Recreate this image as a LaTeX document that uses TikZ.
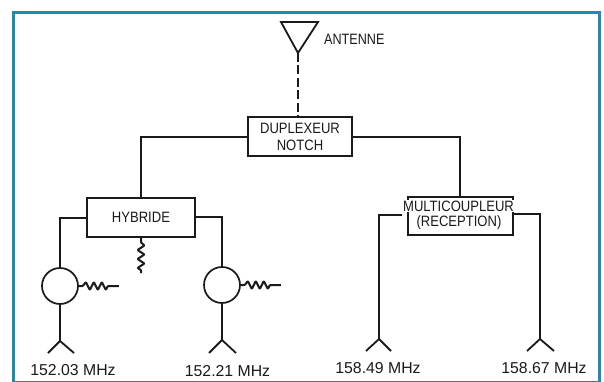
\documentclass[tikz,border=0pt]{standalone}
\usepackage{fontspec}
\setmainfont{Liberation Sans}
\newfontfamily\boxfont[FakeStretch=0.87]{Liberation Sans}
\newfontfamily\antfont[FakeStretch=0.84]{Liberation Sans}
\definecolor{framecol}{HTML}{1B8DAF}
\definecolor{inkcol}{HTML}{1A1A1A}
\begin{document}
\begin{tikzpicture}[x=1pt,y=-1pt,
  wire/.style={line width=1.8pt,draw=inkcol,line join=miter},
  rwire/.style={line width=2pt,draw=inkcol,line join=round,rounded corners=0.8pt},
  boxn/.style={draw=inkcol,line width=2pt,fill=white,inner sep=0pt,align=center,text=inkcol,font=\boxfont\fontsize{15}{16.5}\selectfont},
  lab/.style={text=inkcol,font=\fontsize{15.8}{17}\selectfont,inner sep=0pt},
  circn/.style={draw=inkcol,line width=1.7pt,circle,minimum size=36pt,inner sep=0pt}]
\useasboundingbox (0,0) rectangle (604,382);
\fill[white] (0,0) rectangle (604,382);
\draw[draw=framecol,line width=3pt] (13.5,13) rectangle (599,382);
% antenna
\coordinate (anttip) at (298,53);
\coordinate (antl) at (281,22);
\coordinate (antr) at (318,22);
\draw[wire] (antl) -- (antr) -- (anttip) -- cycle;
\node[lab,anchor=west,font=\antfont\fontsize{15}{15}\selectfont] (antlab) at (324,39) {ANTENNE};
% boxes
\node[boxn,minimum width=104pt,minimum height=39pt] (dup) at (300,137) {DUPLEXEUR\\NOTCH};
\draw[wire,dash pattern=on 9pt off 3.5pt] (anttip) -- (dup.north -| anttip);
\node[boxn,minimum width=108pt,minimum height=39pt] (hyb) at (141,217) {HYBRIDE};
\node[draw=inkcol,line width=2pt,fill=white,inner sep=0pt,minimum width=105pt,minimum height=38pt] (mul) at (460,216) {};
\node[lab,font=\boxfont\fontsize{15}{15}\selectfont] (rec) at (459,223) {(RECEPTION)};
\node[lab,fill=white,inner xsep=1pt,inner ysep=1pt,font=\boxfont\fontsize{15}{15}\selectfont] (multxt) at (458.5,206) {MULTICOUPLEUR};
% links
\draw[wire] (dup.west) -- (141,137) -- (hyb.north);
\draw[wire] (dup.east) -- (460,137) -- (mul.north);
% circles
\node[circn] (c1) at (60,286) {};
\node[circn] (c2) at (222,285) {};
\coordinate (h1) at (60,218);
\coordinate (h2) at (222,217);
\draw[wire] (hyb.west |- h1) -- (h1) -- (c1.north);
\draw[wire] (hyb.east |- h2) -- (h2) -- (c2.north);
% antenna tips bottom
\coordinate (a1) at (60,341);
\coordinate (a2) at (222,340);
\coordinate (a3) at (379,339);
\coordinate (a4) at (540,339);
\draw[wire] (c1.south) -- (a1);
\draw[wire] (48,353) -- (a1) -- (74,353);
\draw[wire] (c2.south) -- (a2);
\draw[wire] (209,353) -- (a2) -- (236,353);
\coordinate (m1) at (379,215);
\coordinate (m2) at (540,214);
\draw[wire] (multxt.west |- m1) -- (m1) -- (a3);
\draw[wire] (366,351) -- (a3) -- (391,351);
\draw[wire] (mul.east |- m2) -- (m2) -- (a4);
\draw[wire] (527,351) -- (a4) -- (554,351);
% resistors
\draw[rwire] (hyb.south) -- ++(0,5) -- ++(3.5,3) -- ++(-7,4.5) -- ++(7,4.5) -- ++(-7,4.5) -- ++(7,4.5) -- ++(-7,4.5) -- ++(3.5,2) -- ++(0,3);
\draw[rwire] (c1.east) -- ++(4,0) -- ++(3,-4) -- ++(4,8) -- ++(4,-8) -- ++(4,8) -- ++(4,-8) -- ++(4,8) -- ++(2,-4) -- ++(11,0);
\draw[rwire] (c2.east) -- ++(4,0) -- ++(3,-4) -- ++(4,8) -- ++(4,-8) -- ++(4,8) -- ++(4,-8) -- ++(4,8) -- ++(2,-4) -- ++(11,0);
% labels
\node[lab] (l1) at (73,370.5) {152.03 MHz};
\node[lab] (l2) at (227.5,371) {152.21 MHz};
\node[lab] (l3) at (378,368) {158.49 MHz};
\node[lab] (l4) at (544,368) {158.67 MHz};
\end{tikzpicture}
\end{document}
